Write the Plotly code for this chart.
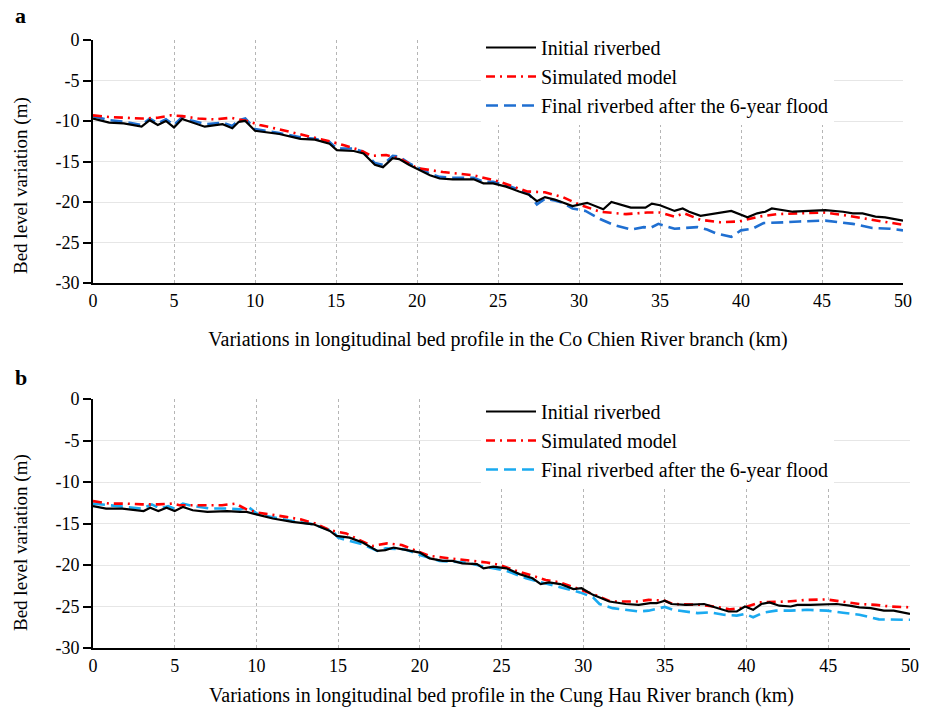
import plotly.graph_objects as go

# ---------------- Panel a: Co Chien River ----------------
a_init_x = [0, 1.0, 1.9, 3.0, 3.5, 4.0, 4.5, 5.0, 5.5, 6.0, 6.9, 8.0, 8.6, 9.0, 9.4, 10.0, 11.5, 12.8, 13.7, 14.6,
            15.05, 16.1, 16.7, 17.4, 17.9, 18.5, 18.9, 19.5, 20.0, 20.8, 21.4, 22.2, 23.5, 24.1, 24.7, 25.5, 26.3,
            26.9, 27.4, 27.9, 28.5, 29.3, 29.6, 30.5, 31.5, 32.0, 33.2, 34.1, 34.5, 35.0, 35.9, 36.4, 36.8, 37.5,
            38.5, 39.4, 40.4, 41.0, 41.5, 41.9, 43.2, 44.0, 45.2, 46.3, 46.9, 47.5, 48.3, 48.9, 50.0]
a_init_y = [-9.7, -10.2, -10.3, -10.7, -9.9, -10.5, -10.0, -10.8, -9.75, -10.1, -10.7, -10.4, -10.9, -10.1, -10.0,
            -11.2, -11.6, -12.2, -12.3, -12.8, -13.6, -13.7, -14.0, -15.4, -15.7, -14.6, -14.7, -15.4, -15.9, -16.7,
            -17.1, -17.2, -17.2, -17.7, -17.7, -18.1, -18.7, -19.1, -19.9, -19.4, -19.7, -20.3, -20.5, -20.1, -20.9,
            -20.0, -20.7, -20.7, -20.2, -20.4, -21.1, -20.8, -21.2, -21.7, -21.4, -21.1, -21.9, -21.4, -21.2, -20.8,
            -21.2, -21.1, -21.0, -21.2, -21.4, -21.4, -21.8, -21.9, -22.3]

a_sim_x = [0, 1.0, 2.0, 3.0, 4.0, 4.8, 5.5, 6.5, 7.5, 8.5, 9.5, 10.3, 11.0, 12.5, 13.5, 14.6, 15.5, 16.5, 17.2, 18.1,
           19.0, 20.0, 21.6, 22.5, 23.5, 25.1, 26.0, 26.8, 27.9, 29.0, 30.0, 31.3, 32.9, 34.2, 35.0, 35.9, 36.5,
           37.5, 38.7, 39.9, 41.1, 42.2, 43.6, 45.2, 46.3, 47.7, 48.7, 50.0]
a_sim_y = [-9.3, -9.5, -9.6, -9.7, -9.6, -9.3, -9.4, -9.7, -9.8, -9.6, -10.0, -10.5, -10.8, -11.5, -11.9, -12.5,
           -13.0, -13.6, -14.3, -14.2, -14.7, -15.8, -16.3, -16.5, -16.7, -17.5, -18.1, -18.7, -18.8, -19.4, -20.3,
           -21.2, -21.5, -21.3, -21.3, -21.8, -21.4, -22.2, -22.5, -22.4, -21.8, -21.5, -21.4, -21.3, -21.6, -22.1,
           -22.4, -22.8]

a_fin_x = [0, 1.0, 2.0, 3.0, 3.5, 4.0, 4.5, 5.0, 5.5, 6.0, 7.0, 8.0, 8.6, 9.0, 9.4, 10.0, 11.5, 12.8, 13.7, 14.6,
           15.05, 16.1, 16.7, 17.4, 17.9, 18.5, 18.9, 19.5, 20.0, 20.8, 21.4, 22.2, 23.5, 24.1, 24.7, 25.5, 26.3,
           26.9, 27.4, 27.9, 28.5, 29.0, 29.6, 30.4, 31.3, 32.1, 33.2, 34.0, 34.4, 34.9, 35.9, 37.3, 37.9, 38.5,
           39.4, 40.0, 40.7, 41.4, 42.8, 43.6, 45.2, 46.3, 46.9, 48.1, 49.2, 50.0]
a_fin_y = [-9.4, -9.9, -10.1, -10.5, -9.7, -10.3, -9.8, -10.5, -9.5, -9.9, -10.4, -10.2, -10.6, -9.9, -9.7, -11.0,
           -11.5, -12.0, -12.2, -12.6, -13.4, -13.4, -13.8, -15.2, -15.4, -14.3, -14.4, -15.2, -15.7, -16.5, -16.9,
           -17.0, -17.0, -17.5, -17.5, -17.9, -18.5, -19.0, -20.3, -19.6, -19.8, -20.1, -20.8, -21.1, -22.1, -22.8,
           -23.4, -23.1, -23.2, -22.7, -23.3, -23.1, -23.4, -23.9, -24.3, -23.5, -23.3, -22.6, -22.5, -22.4, -22.3,
           -22.5, -22.7, -23.2, -23.3, -23.5]

# ---------------- Panel b: Cung Hau River ----------------
b_init_x = [0, 0.8, 1.8, 3.1, 3.5, 4.0, 4.5, 5.0, 5.5, 6.1, 7.0, 8.2, 9.0, 9.4, 10.0, 11.0, 12.2, 13.5, 14.5, 14.9,
            15.7, 16.5, 17.4, 17.9, 18.4, 19.1, 20.0, 20.6, 21.4, 22.0, 22.6, 23.5, 23.9, 24.5, 25.3, 26.1, 26.9,
            27.4, 27.9, 28.6, 29.4, 29.9, 30.6, 31.6, 32.6, 33.4, 34.1, 34.5, 35.0, 35.4, 36.3, 37.4, 38.2, 38.9,
            39.4, 39.9, 40.4, 40.9, 41.4, 42.0, 42.7, 43.1, 43.9, 44.9, 45.5, 46.3, 46.9, 47.6, 48.4, 49.0, 50.0]
b_init_y = [-12.9, -13.2, -13.2, -13.5, -13.1, -13.5, -13.1, -13.5, -13.0, -13.4, -13.6, -13.5, -13.6, -13.6, -13.9,
            -14.4, -14.8, -15.1, -15.9, -16.5, -16.7, -17.3, -18.3, -18.2, -17.9, -18.2, -18.5, -19.2, -19.5, -19.5,
            -19.8, -19.9, -20.4, -20.2, -20.4, -21.1, -21.6, -22.3, -22.1, -22.3, -22.9, -22.8, -23.6, -24.4, -24.7,
            -24.8, -24.6, -24.6, -24.3, -24.7, -24.8, -24.7, -25.2, -25.6, -25.6, -25.0, -25.4, -24.7, -24.5, -24.9,
            -25.0, -24.8, -24.8, -24.7, -24.7, -24.9, -25.1, -25.2, -25.5, -25.5, -25.9]

b_sim_x = [0, 1.0, 2.0, 3.0, 4.0, 4.9, 5.3, 6.6, 7.9, 8.7, 9.4, 10.1, 10.9, 11.8, 12.7, 13.6, 14.5, 15.5, 16.2,
           17.1, 18.0, 18.9, 19.8, 20.6, 21.4, 22.3, 23.2, 24.1, 24.9, 25.9, 26.9, 27.7, 28.6, 29.8, 30.6, 31.7,
           33.4, 34.0, 35.0, 35.5, 37.2, 38.0, 39.0, 39.8, 40.8, 42.5, 43.7, 44.9, 45.9, 46.9, 47.9, 48.8, 50.0]
b_sim_y = [-12.3, -12.6, -12.6, -12.7, -12.7, -12.6, -12.8, -12.8, -12.8, -12.6, -13.3, -13.7, -13.9, -14.2, -14.5,
           -15.0, -15.8, -16.2, -16.9, -17.7, -17.4, -17.6, -18.3, -18.9, -19.1, -19.3, -19.5, -19.7, -20.0, -20.7,
           -21.3, -21.8, -22.1, -22.9, -23.5, -24.4, -24.4, -24.2, -24.3, -24.7, -24.8, -25.0, -25.35, -25.15,
           -24.5, -24.4, -24.2, -24.15, -24.4, -24.7, -24.8, -25.0, -25.1]

b_fin_x = [0, 1.8, 3.0, 3.6, 4.1, 4.6, 5.0, 5.5, 6.1, 7.2, 8.2, 9.0, 9.5, 10.1, 12.2, 13.5, 14.5, 14.8, 15.0, 15.5,
           16.5, 17.4, 17.9, 19.1, 20.0, 21.2, 22.8, 23.7, 25.3, 26.5, 28.0, 28.6, 29.8, 30.6, 31.0, 31.8, 33.4,
           34.0, 35.0, 35.5, 37.0, 37.8, 38.6, 39.4, 39.9, 40.4, 41.0, 41.8, 42.7, 43.7, 44.9, 45.9, 46.9, 48.1,
           49.0, 50.0]
b_fin_y = [-12.6, -13.0, -13.2, -12.7, -13.2, -12.9, -13.2, -12.6, -12.9, -13.2, -13.2, -13.3, -13.0, -13.9, -14.7,
           -15.1, -15.8, -16.2, -16.7, -17.0, -17.5, -18.3, -18.0, -18.1, -18.8, -19.5, -19.7, -20.1, -20.7, -21.6,
           -22.4, -22.7, -23.3, -23.9, -24.7, -25.2, -25.6, -25.5, -25.05, -25.4, -25.8, -25.7, -26.0, -26.1, -25.9,
           -26.3, -25.75, -25.5, -25.5, -25.4, -25.5, -25.75, -26.0, -26.55, -26.6, -26.6]

x_ticks = [0, 5, 10, 15, 20, 25, 30, 35, 40, 45, 50]
y_ticks = [0, -5, -10, -15, -20, -25, -30]
y_ticktext = ["0", "-5", "-10", "-15", "-20", "-25", "-30"]

names = ["Initial riverbed", "Simulated model", "Final riverbed after the 6-year flood"]
x_titles = ["Variations in longitudinal bed profile in the Co Chien River branch (km)",
            "Variations in longitudinal bed profile in the Cung Hau River branch (km)"]
y_title = "Bed level variation (m)"
panel_labels = ["a", "b"]

FONT = "Liberation Serif"
fig = go.Figure()

panels = [
    (a_init_x, a_init_y, a_sim_x, a_sim_y, a_fin_x, a_fin_y, "#1f6fd1", "x", "y", "legend"),
    (b_init_x, b_init_y, b_sim_x, b_sim_y, b_fin_x, b_fin_y, "#1aaaf0", "x2", "y2", "legend2"),
]
for (ix, iy, sx, sy, fx, fy_, bcol, xa, ya, lg) in panels:
    fig.add_trace(go.Scatter(x=fx, y=fy_, mode="lines", name=names[2], xaxis=xa, yaxis=ya, legend=lg,
                             line=dict(color=bcol, width=2.6, dash="12px,6px"), legendrank=3))
    fig.add_trace(go.Scatter(x=sx, y=sy, mode="lines", name=names[1], xaxis=xa, yaxis=ya, legend=lg,
                             line=dict(color="#ff0000", width=2.6, dash="9px,5px,2px,5px"), legendrank=2))
    fig.add_trace(go.Scatter(x=ix, y=iy, mode="lines", name=names[0], xaxis=xa, yaxis=ya, legend=lg,
                             line=dict(color="#000000", width=2.2), legendrank=1))

W, H = 928, 709
ml, mr = 93, 18
mt, mb = 40, 61
ph = H - mt - mb
pw = W - ml - mr

def fy(py):
    return 1 - (py - mt) / ph

def fx(px):
    return (px - ml) / pw

common_x = dict(range=[0, 50], tickvals=x_ticks, showline=True, linecolor="black", linewidth=2,
                showgrid=True, gridcolor="#b5b5b5", griddash="dot", gridwidth=1, ticks="", automargin=False,
                tickfont=dict(family=FONT, size=18, color="black"), zeroline=False, mirror=False)
common_y = dict(range=[-30, 0], tickvals=y_ticks, ticktext=y_ticktext, showline=True, linecolor="black",
                linewidth=2, showgrid=True, gridcolor="#e6e6e6", gridwidth=1, ticks="outside", ticklen=8,
                tickwidth=1.5, tickcolor="black", tickfont=dict(family=FONT, size=18, color="black"),
                zeroline=False, automargin=False)

fig.update_layout(
    width=W, height=H,
    margin=dict(l=ml, r=mr, t=mt, b=mb, autoexpand=False),
    plot_bgcolor="white", paper_bgcolor="white",
    xaxis=dict(**common_x, domain=[0, 810 / 817], anchor="y",
               title=dict(text=x_titles[0], font=dict(family=FONT, size=20, color="black"), standoff=22)),
    yaxis=dict(**common_y, domain=[fy(283), 1.0], anchor="x"),
    xaxis2=dict(**common_x, domain=[0, 1], anchor="y2",
                title=dict(text=x_titles[1], font=dict(family=FONT, size=20, color="black"), standoff=13)),
    yaxis2=dict(**common_y, domain=[0, fy(399)], anchor="x2"),
    legend=dict(x=fx(481), y=fy(28), xanchor="left", yanchor="top", bgcolor="white",
                font=dict(family=FONT, size=20, color="black"), tracegroupgap=0, itemwidth=50),
    legend2=dict(x=fx(481), y=fy(392), xanchor="left", yanchor="top", bgcolor="white",
                 font=dict(family=FONT, size=20, color="black"), tracegroupgap=0, itemwidth=50),
    showlegend=True,
)

for lab, py in zip(panel_labels, [16, 377]):
    fig.add_annotation(text="<b>" + lab + "</b>", xref="paper", yref="paper", x=fx(13), y=fy(py),
                       xanchor="left", yanchor="middle", showarrow=False,
                       font=dict(family=FONT, size=22, color="black"))

for py in [186, 543]:
    fig.add_annotation(text=y_title, xref="paper", yref="paper", x=fx(21), y=fy(py),
                       xanchor="center", yanchor="middle", textangle=-90, showarrow=False,
                       font=dict(family=FONT, size=19, color="black"))

fig.write_html("out.html")
